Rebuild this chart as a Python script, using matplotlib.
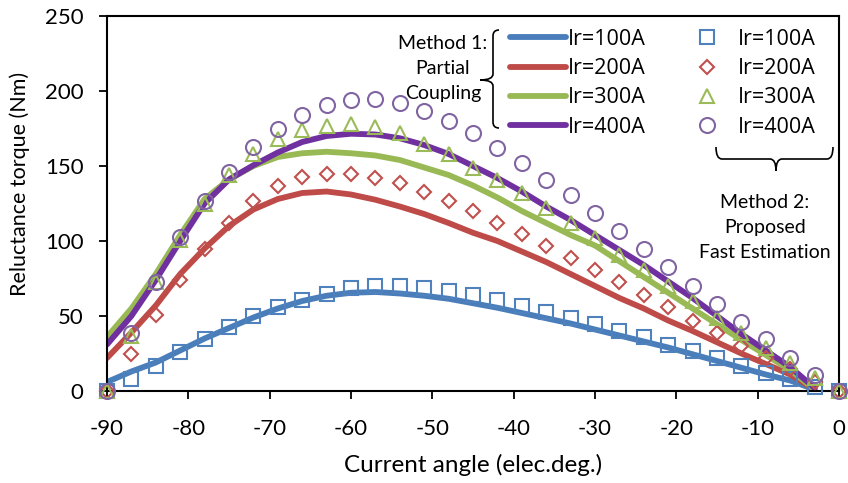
import matplotlib.pyplot as plt
from matplotlib.path import Path
from matplotlib.patches import PathPatch

plt.rcParams['font.family'] = ['Lato', 'DejaVu Sans']
plt.rcParams['axes.unicode_minus'] = False

# Method 1 (Partial Coupling) - solid lines, sampled every 3 deg
angle_m1 = list(range(-90, -2, 3))
line_100 = [6, 13, 19, 27, 35, 42, 49, 55, 60, 63.5, 65.5, 66, 65, 63.5, 61.5,
            58.5, 55.5, 52, 48.5, 45, 41, 37, 33, 29, 24.5, 20, 15.5, 11, 7, 1]
line_200 = [22, 39, 57, 78, 95, 110, 121, 128, 132, 133, 131, 127.5, 123, 118, 112,
            105.5, 100, 93, 86, 78, 70, 62, 55, 47, 40, 32.5, 25, 18, 11, 1]
line_300 = [36, 55, 78, 104, 128, 141, 150, 156, 158.5, 159.5, 158.5, 157, 154, 149, 144,
            137, 129, 120, 112, 104, 97, 86.5, 76, 65.5, 55, 44.5, 34, 24, 14, 1]
line_400 = [31, 50, 74, 100, 125, 141, 150.5, 159, 166, 170, 171.5, 171, 168.5, 164, 158,
            150, 142, 133, 123, 114, 104, 94, 84, 73, 62, 50, 38, 27, 16, 2]

# Method 2 (Proposed Fast Estimation) - markers every 3 deg
angle_m2 = list(range(-90, 1, 3))
pts_100 = [0, 8, 17, 26, 35, 43, 50, 56, 61, 65, 68.5, 70, 70, 68.5, 67, 64,
           61, 57, 53, 49, 45, 40, 36, 31, 27, 22, 17, 12, 8, 3, 0]
pts_200 = [0, 25, 51, 74, 95, 112, 127, 137, 143, 145, 145, 142, 138.5, 133, 127, 120,
           112, 105, 97, 89, 81, 73, 64, 56, 47, 39, 30, 22, 15, 6, 0]
pts_300 = [0, 37, 73, 101, 125, 144, 158, 168, 174, 177, 178, 176, 172, 165, 158, 149,
           141, 132, 122, 112, 102, 91, 81, 70, 60, 49, 39, 29, 19, 9, 0]
pts_400 = [0, 39, 73, 103, 127, 146, 163, 175, 184, 191, 194, 194.5, 192, 187, 180, 172,
           162, 152, 141, 131, 119, 107, 95, 83, 70, 58, 46, 35, 22, 11, 0]

labels = ["Ir=100A", "Ir=200A", "Ir=300A", "Ir=400A"]
line_colors = ["#4A7EBB", "#BE4B48", "#98B954", "#7030A0"]
mark_colors = ["#4F81BD", "#C0504D", "#9BBB59", "#8064A2"]
markers = ["s", "D", "^", "o"]
msizes = [10, 6.8, 10.5, 10.8]

W, H = 848, 483
fig = plt.figure(figsize=(W / 100, H / 100), dpi=100)
ax = fig.add_axes([107 / W, 1 - 391 / H, (839 - 107) / W, (391 - 16) / H])


def fx(x, y):
    # pixel position -> figure fraction
    return (x / W, 1 - y / H)


handles = []
for vals, c, lab in zip([line_100, line_200, line_300, line_400], line_colors, labels):
    h, = ax.plot(angle_m1, vals, color=c, lw=4.2, solid_capstyle="round", label=lab, zorder=2)
    handles.append(h)
for vals, c, m, ms, lab in zip([pts_100, pts_200, pts_300, pts_400], mark_colors, markers, msizes, labels):
    h, = ax.plot(angle_m2, vals, ls="none", marker=m, ms=ms, mfc="none", mec=c, mew=1.5,
                 label=lab, zorder=3, clip_on=False)
    handles.append(h)

ax.set_xlim(-90, 0)
ax.set_ylim(0, 250)
ax.set_xticks(range(-90, 1, 10))
ax.set_yticks(range(0, 251, 50))
ax.tick_params(direction="out", length=6, width=1.3, labelsize=16)
ax.tick_params(axis="x", pad=14)
ax.tick_params(axis="y", pad=11)
for s in ax.spines.values():
    s.set_linewidth(1.5)

ax.set_xlabel("Current angle (elec.deg.)", fontsize=17.5, labelpad=11)
ax.set_ylabel("Reluctance torque (Nm)", fontsize=15.5)
ax.yaxis.set_label_coords(-0.105, 0.551)

ax.legend(handles=handles, ncol=2, loc="upper left", bbox_to_anchor=fx(510, 29),
          bbox_transform=fig.transFigure, frameon=False,
          prop={"family": "Open Sans", "size": 15.5},
          handlelength=2.6, handletextpad=0.1, columnspacing=1.55, labelspacing=0.38,
          borderpad=0, borderaxespad=0)

# Method 1 brace "{"
verts = [(499, 30), (493, 30), (493, 36), (493, 74), (493, 80), (480, 80),
         (493, 80), (493, 86), (493, 122), (493, 128), (499, 128)]
codes = [Path.MOVETO, Path.CURVE3, Path.CURVE3, Path.LINETO, Path.CURVE3, Path.CURVE3,
         Path.CURVE3, Path.CURVE3, Path.LINETO, Path.CURVE3, Path.CURVE3]
fig.add_artist(PathPatch(Path([fx(*v) for v in verts], codes), fill=False, lw=1.2,
                         ec="black", transform=fig.transFigure))

# Method 2 brace (under legend)
verts = [(716, 147), (716, 159), (722, 159), (770, 159), (776, 159), (776, 171),
         (776, 159), (782, 159), (827, 159), (833, 159), (833, 147)]
fig.add_artist(PathPatch(Path([fx(*v) for v in verts], codes), fill=False, lw=1.2,
                         ec="black", transform=fig.transFigure))

fig.text(*fx(443, 35), "Method 1:\nPartial\nCoupling", ha="center", va="top",
         multialignment="center", fontsize=14, linespacing=1.56)
fig.text(*fx(765, 194), "Method 2:\nProposed\nFast Estimation", ha="center", va="top",
         multialignment="center", fontsize=14, linespacing=1.56)

fig.savefig("out.png", dpi=100)
